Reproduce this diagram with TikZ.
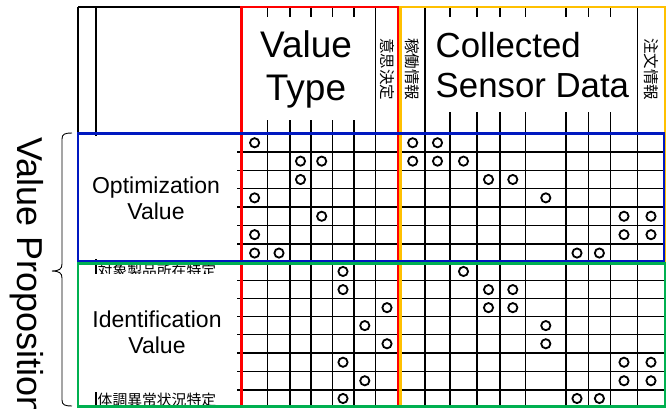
\documentclass[tikz,border=0pt]{standalone}
\usepackage{fontspec}
\setmainfont{Liberation Sans}
\newfontfamily\jp{Noto Sans CJK JP}
\definecolor{vtred}{RGB}{255,0,0}
\definecolor{sdorange}{RGB}{255,192,0}
\definecolor{opblue}{RGB}{0,24,192}
\definecolor{idgreen}{RGB}{0,176,80}
\def\colx{{254.6,279,300.5,321.7,343,364.8,387,412.7,437.5,463.5,488.5,512.8,545.8,577,599.4,624,651}}
\def\rowy{{142.75,161.15,179.5,197.85,216.25,234.65,253.05,271.45,289.6,307.65,325.6,343.75,362.25,380.75,398.5}}
\begin{document}
\begin{tikzpicture}[x=1pt,y=-1pt,
  gridline/.style={line width=1.45pt, black},
  ocirc/.style={circle, draw, line width=1.8pt, minimum size=9.2pt, inner sep=0pt},
  bigtxt/.style={font=\fontsize{37}{43}\selectfont, inner sep=0pt, align=center},
  sdtxt/.style={font=\fontsize{34.8}{40}\selectfont, inner sep=0pt, align=left},
  midtxt/.style={font=\fontsize{23}{26.5}\selectfont, inner sep=0pt, align=center},
  jprow/.style={font=\jp\fontsize{14.8}{14.8}\selectfont, inner sep=0pt},
  jpcol/.style={font=\jp\fontsize{15.5}{15.5}\selectfont, inner sep=0pt, rotate=-90},
  boxline/.style={line width=2.5pt}]
\useasboundingbox (0,0) rectangle (667,408);
% grid lines
\draw[gridline] (78,7) -- (241.5,7);
\draw[gridline] (78,7) -- (78,133.5);
\draw[gridline] (96,7) -- (96,407);
\foreach \xv in {267.7,290,311,332.3,354,375.7,425,450,477,500,525.7,566,588.3,610.5,637.5}
  \draw[gridline] (\xv,7) -- (\xv,407);
\foreach \yv in {152,170.3,188.7,207,225.5,243.8,280.6,298.6,316.7,334.5,353,371.5,390}
  \draw[gridline] (96,\yv) -- (665,\yv);
% row header texts
\node[jprow, anchor=west] (rt1) at (97.5,271) {対象製品所在特定};
\node[jprow, anchor=west] (rt2) at (97.5,399.5) {体調異常状況特定};
% header column texts
\node[jpcol] (h1) at (387,69) {意思決定};
\node[jpcol] (h2) at (412.7,69) {稼働情報};
\node[jpcol] (h3) at (651,69) {注文情報};
% white label backgrounds
\fill[white] (246,17) rectangle (359,120);
\fill[white] (428,17) rectangle (636,112);
\fill[white] (84,136) rectangle (237,259);
\fill[white] (84,274) rectangle (237,392);
% labels
\node[bigtxt] (vt) at (306,69.5) {Value\\Type};
\node[sdtxt, anchor=west] (sd) at (435.5,64.6) {Collected\\Sensor Data};
\node[midtxt] (ov) at (156,198.5) {Optimization\\Value};
\node[midtxt] (iv) at (157,332.2) {Identification\\Value};
\node[font=\fontsize{36}{36}\selectfont, inner sep=0pt, rotate=-90, anchor=base west] (vp) at (17,137) {Value Proposition};
% brace
\draw[line width=0.9pt] (72,133) .. controls (65,133) and (62,134) .. (62,139) -- (62,264) .. controls (62,269) and (59,271) .. (52,271) .. controls (59,271) and (62,273) .. (62,278) -- (62,400) .. controls (62,405) and (65,406) .. (72,406);
% coloured boxes
\draw[boxline, vtred] (241.5,7) rectangle (398.5,407);
\draw[boxline, sdorange] (400.5,7) rectangle (665,407);
\draw[boxline, opblue] (78,133.5) rectangle (664,261);
\draw[boxline, idgreen] (78,263.5) rectangle (665,406.5);
% circles
\foreach \r/\cs in {1/{1,8,9},2/{3,4,8,9,10},3/{3,11,12},4/{1,13},5/{4,16,17},6/{1,16,17},7/{1,2,14,15},
  8/{5,10},9/{5,11,12},10/{7,11,12},11/{6,13},12/{7,13},13/{5,16,17},14/{6,16,17},15/{5,14,15}} {
  \foreach \c in \cs {
    \pgfmathtruncatemacro\ci{\c-1}
    \pgfmathtruncatemacro\ri{\r-1}
    \pgfmathsetmacro\xx{\colx[\ci]}
    \pgfmathsetmacro\yy{\rowy[\ri]}
    \node[ocirc] (o\r-\c) at (\xx,\yy) {};
  }
}
\end{tikzpicture}
\end{document}
